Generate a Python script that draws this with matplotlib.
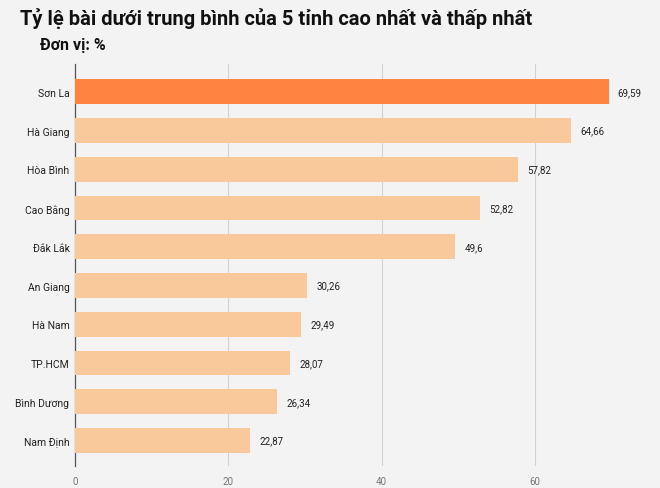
import matplotlib.pyplot as plt

provinces = ["Sơn La", "Hà Giang", "Hòa Bình", "Cao Bằng", "Đắk Lắk",
             "An Giang", "Hà Nam", "TP.HCM", "Bình Dương", "Nam Định"]
values = [69.59, 64.66, 57.82, 52.82, 49.6, 30.26, 29.49, 28.07, 26.34, 22.87]
value_labels = ["69,59", "64,66", "57,82", "52,82", "49,6",
                "30,26", "29,49", "28,07", "26,34", "22,87"]
x_ticks = [0, 20, 40, 60]

plt.rcParams['font.family'] = ['Roboto', 'DejaVu Sans']

bg = "#f3f3f3"
fig = plt.figure(figsize=(6.6, 4.89), dpi=100, facecolor=bg)
ax = fig.add_axes([75 / 660, 1 - 467 / 489, 575 / 660, 402 / 489], facecolor=bg)

colors = ["#ff8442"] + ["#f9c99c"] * (len(values) - 1)
ypos = list(range(len(values)))
ax.barh(ypos, values, height=0.64, color=colors, zorder=3)
for y, v, lab in zip(ypos, values, value_labels):
    ax.text(v + 1.2, y, lab, va="center", ha="left", fontsize=7, color="#222222", zorder=4)

ax.set_xlim(0, 75)
ax.set_ylim(len(values) - 0.34, -0.72)
ax.set_yticks(ypos)
ax.set_yticklabels(provinces, fontsize=7.5, color="#222222")
ax.set_xticks(x_ticks)
ax.set_xticklabels([str(t) for t in x_ticks], fontsize=7, color="#777777")
ax.tick_params(axis="y", length=0, pad=4)
ax.tick_params(axis="x", length=0, pad=7)
ax.grid(axis="x", color="#d2d2d2", linewidth=0.8, zorder=0)
for s in ["top", "right", "bottom"]:
    ax.spines[s].set_visible(False)
ax.spines["left"].set_color("#555555")
ax.spines["left"].set_linewidth(0.9)
ax.spines["left"].set_zorder(2)

fig.text(20 / 660, 1 - 19 / 489, "Tỷ lệ bài dưới trung bình của 5 tỉnh cao nhất và thấp nhất",
         fontsize=14.5, fontweight="bold", color="#111111", va="center", ha="left")
fig.text(40 / 660, 1 - 45 / 489, "Đơn vị: %", fontsize=11.5, fontweight="bold",
         color="#111111", va="center", ha="left")

fig.savefig("out.png", dpi=100, facecolor=bg)
